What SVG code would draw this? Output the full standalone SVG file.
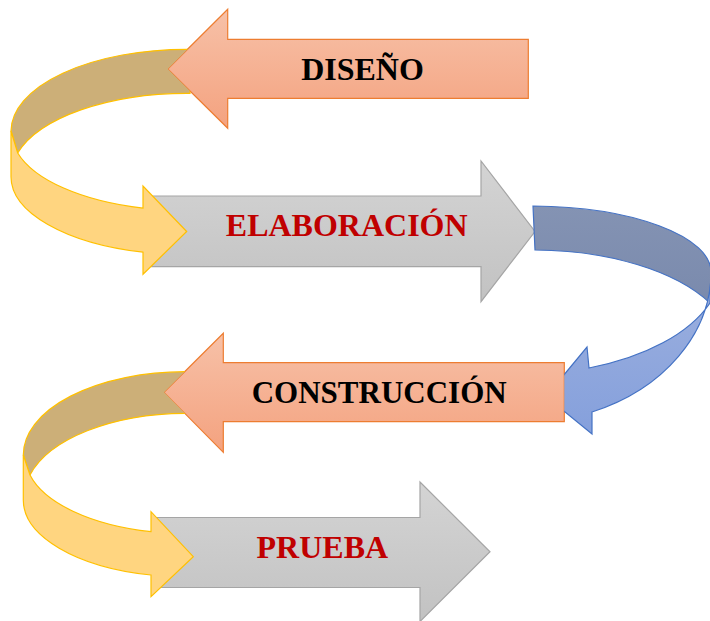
<svg xmlns="http://www.w3.org/2000/svg" width="710" height="621" viewBox="0 0 710 621">
  <style>
    .orange { fill: url(#gOrange); stroke: #ED7D31; stroke-width: 1.2; }
    .gray { fill: url(#gGray); stroke: #A5A5A5; stroke-width: 1.2; }
    .tan { fill: #CCAF78; stroke: #FFC000; stroke-width: 1.2; }
    .yellow { fill: #FFD580; stroke: #FFC000; stroke-width: 1.2; }
    .bdark { fill: url(#gBlueDark); stroke: #4472C4; stroke-width: 1.2; }
    .blight { fill: url(#gBlueLight); stroke: #4472C4; stroke-width: 1.2; }
    .lbl { font-family: "Liberation Serif", "Times New Roman", serif; font-weight: bold; font-size: 32px; text-anchor: middle; }
    .blk { fill: #000000; }
    .red { fill: #C00000; }
  </style>
  <defs>
    <linearGradient id="gOrange" x1="0" y1="0" x2="0" y2="1">
      <stop offset="0" stop-color="#F7C1A8"/>
      <stop offset="1" stop-color="#F4A27F"/>
    </linearGradient>
    <linearGradient id="gGray" x1="0" y1="0" x2="0" y2="1">
      <stop offset="0" stop-color="#D4D4D4"/>
      <stop offset="1" stop-color="#C2C2C2"/>
    </linearGradient>
    <linearGradient id="gBlueDark" x1="0" y1="0" x2="0" y2="1">
      <stop offset="0" stop-color="#8493B3"/>
      <stop offset="1" stop-color="#7A8AAD"/>
    </linearGradient>
    <linearGradient id="gBlueLight" x1="0" y1="0" x2="0" y2="1">
      <stop offset="0" stop-color="#9DB0DE"/>
      <stop offset="1" stop-color="#85A0DC"/>
    </linearGradient>
    <clipPath id="clipDis">
      <path clip-rule="evenodd" d="M0,0H710V621H0Z M167.7,69 L227.7,9.3 L227.7,39.3 L528.3,39.3 L528.3,98.3 L227.7,98.3 L227.7,128.3 Z"/>
    </clipPath>
    <clipPath id="clipCon">
      <path clip-rule="evenodd" d="M0,0H710V621H0Z M164,392.3 L223.3,333.3 L223.3,362.7 L564.3,362.7 L564.3,421.7 L223.3,421.7 L223.3,452.3 Z"/>
    </clipPath>
  </defs>

  <g id="node-diseno">
    <path class="orange" d="M167.7,69 L227.7,9.3 L227.7,39.3 L528.3,39.3 L528.3,98.3 L227.7,98.3 L227.7,128.3 Z"/>
    <text class="lbl blk" x="362.5" y="80">DISEÑO</text>
  </g>

  <g id="node-elaboracion">
    <path class="gray" d="M151.7,196 L481,196 L481,161 L535,231.5 L481,301.7 L481,266.7 L151.7,266.7 Z"/>
    <text class="lbl red" x="346.7" y="236">ELABORACIÓN</text>
  </g>

  <g id="node-construccion">
    <path class="orange" d="M164,392.3 L223.3,333.3 L223.3,362.7 L564.3,362.7 L564.3,421.7 L223.3,421.7 L223.3,452.3 Z"/>
    <text class="lbl blk" x="379.2" y="403.3" style="font-size:31px">CONSTRUCCIÓN</text>
  </g>

  <g id="node-prueba">
    <path class="gray" d="M156.7,517.5 L420,517.5 L420,482 L490,551.7 L420,621.5 L420,587.5 L156.7,587.5 Z"/>
    <text class="lbl red" x="322.3" y="558.3">PRUEBA</text>
  </g>

  <g id="connectors">
    <!-- DISEÑO -> ELABORACIÓN -->
    <g id="conn-diseno-elaboracion">
      <path class="tan" clip-path="url(#clipDis)" d="M190,49.3 L187,49.3 A176,82 0 0,0 11,131 L17.7,153 A176,82 0 0,1 187,93.3 L190,93.3 Z"/>
      <path class="yellow" d="M11,131 L11,176.7 A176,78 0 0,0 143,252.2 L143,274.3 L186.7,231.5 L143,186 L143,208.2 A176,78 0 0,1 17.7,153 Z"/>
    </g>
    <!-- ELABORACIÓN -> CONSTRUCCIÓN -->
    <g id="conn-elaboracion-construccion">
      <path class="bdark" d="M533,206 A181,66 0 0,1 711,272 L710,303 A200,100 0 0,0 535,250 Z"/>
      <path class="blight" clip-path="url(#clipCon)" d="M711,272 A191,151 0 0,1 592,412 L592,434 L546,396.5 L587,347 L589,368 A200,108.5 0 0,0 710,303 Z"/>
    </g>
    <!-- CONSTRUCCIÓN -> PRUEBA -->
    <g id="conn-construccion-prueba">
      <path class="tan" clip-path="url(#clipCon)" d="M188,371.7 L185,371.7 A162,83.3 0 0,0 23.3,455 L30,475 A162,83.3 0 0,1 185,413.3 L188,413.3 Z"/>
      <path class="yellow" d="M23.3,455 L23.3,500 A162,76.7 0 0,0 151,575 L151,596.7 L193.3,556.7 L151,511.7 L151,531.7 A162,76.7 0 0,1 30,475 Z"/>
    </g>
  </g>
</svg>
